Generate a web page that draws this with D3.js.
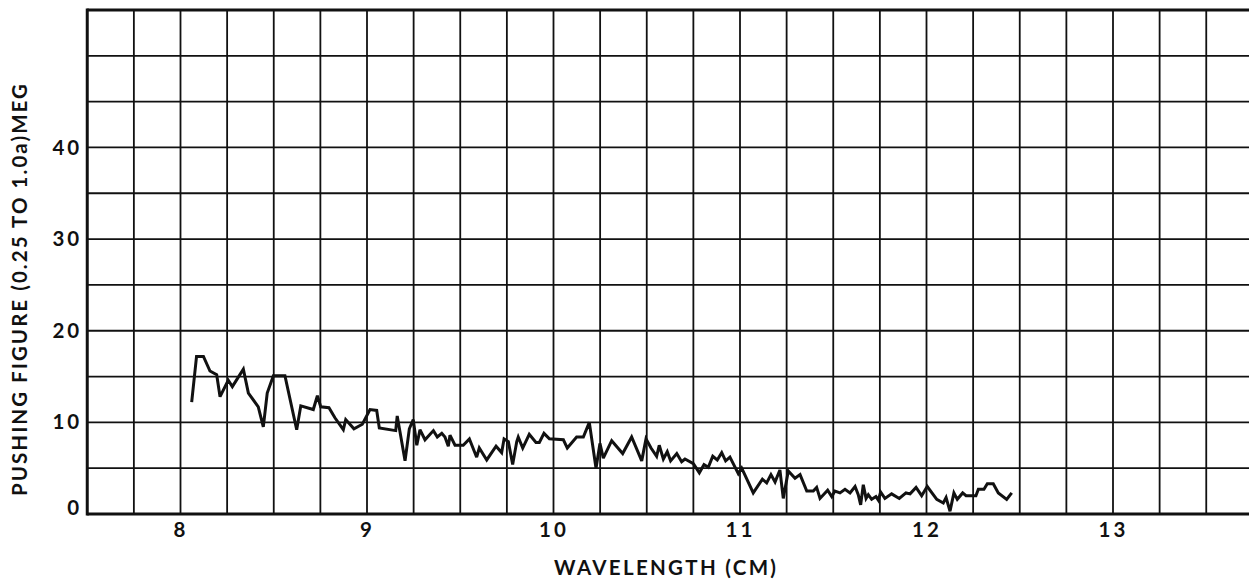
<!DOCTYPE html>
<html>
<head>
<meta charset="utf-8">
<script src="https://cdn.jsdelivr.net/npm/d3@7"></script>
<style>
  html, body { margin: 0; padding: 0; background: #fff; }
  svg { display: block; }
  text { font-family: Lato, "DejaVu Sans", sans-serif; font-weight: 700; fill: #111; }
</style>
</head>
<body>
<svg id="chart" width="1249" height="587"></svg>
<script>
// Wavelength (cm) of each recorded point
const wavelength = [
  8.060, 8.086, 8.123, 8.158, 8.194, 8.212, 8.256, 8.278, 8.337, 8.364,
  8.417, 8.444, 8.465, 8.498, 8.560, 8.623, 8.645, 8.712, 8.734, 8.752,
  8.796, 8.828, 8.873, 8.886, 8.930, 8.975, 9.016, 9.052, 9.066, 9.154,
  9.162, 9.204, 9.227, 9.248, 9.267, 9.284, 9.311, 9.356, 9.377, 9.401,
  9.418, 9.436, 9.445, 9.472, 9.516, 9.549, 9.588, 9.602, 9.642, 9.692,
  9.722, 9.735, 9.758, 9.781, 9.803, 9.811, 9.835, 9.870, 9.906, 9.924,
  9.949, 9.978, 10.053, 10.074, 10.124, 10.160, 10.192, 10.228, 10.249, 10.267,
  10.312, 10.371, 10.419, 10.473, 10.496, 10.523, 10.553, 10.567, 10.589, 10.610,
  10.628, 10.661, 10.687, 10.705, 10.750, 10.782, 10.807, 10.830, 10.854, 10.878,
  10.902, 10.923, 10.946, 10.991, 11.009, 11.023, 11.071, 11.120, 11.143, 11.166,
  11.188, 11.214, 11.232, 11.259, 11.295, 11.322, 11.358, 11.393, 11.411, 11.429,
  11.470, 11.492, 11.509, 11.536, 11.563, 11.590, 11.617, 11.634, 11.647, 11.661,
  11.676, 11.688, 11.706, 11.729, 11.742, 11.754, 11.777, 11.813, 11.854, 11.890,
  11.912, 11.944, 11.974, 12.004, 12.055, 12.090, 12.105, 12.126, 12.147, 12.165,
  12.194, 12.212, 12.265, 12.278, 12.308, 12.326, 12.358, 12.385, 12.430, 12.457
];

// Pushing figure (0.25 to 1.0a), MEG
const pushingFigure = [
  12.2, 17.2, 17.2, 15.6, 15.2, 12.8, 14.6, 13.9, 15.8, 13.2,
  11.7, 9.5, 13.2, 15.1, 15.1, 9.2, 11.8, 11.4, 12.9, 11.7,
  11.6, 10.5, 9.2, 10.3, 9.3, 9.8, 11.4, 11.3, 9.4, 9.1,
  10.7, 5.8, 9.3, 10.3, 7.5, 9.2, 8.1, 9.1, 8.4, 8.8,
  8.4, 7.4, 8.6, 7.5, 7.5, 8.2, 6.2, 7.2, 5.9, 7.4,
  6.7, 8.2, 7.9, 5.4, 7.9, 8.4, 7.2, 8.7, 7.8, 7.8,
  8.8, 8.2, 8.1, 7.2, 8.4, 8.4, 10.0, 5.0, 7.7, 6.1,
  8.0, 6.6, 8.4, 5.8, 8.2, 7.2, 6.3, 7.5, 6.0, 6.8,
  5.8, 6.6, 5.7, 6.0, 5.5, 4.5, 5.4, 5.1, 6.3, 5.9,
  6.7, 5.8, 6.2, 4.4, 5.0, 4.4, 2.3, 3.8, 3.4, 4.3,
  3.5, 4.8, 1.7, 4.7, 3.9, 4.3, 2.5, 2.5, 2.9, 1.7,
  2.6, 1.9, 2.5, 2.3, 2.7, 2.3, 3.0, 2.1, 1.0, 3.2,
  1.7, 2.1, 1.6, 1.9, 1.5, 2.4, 1.7, 2.2, 1.7, 2.3,
  2.2, 2.9, 2.0, 3.0, 1.6, 1.2, 1.8, 0.3, 2.3, 1.6,
  2.3, 2.0, 2.0, 2.7, 2.7, 3.3, 3.3, 2.3, 1.6, 2.3
];

// Axis tick labels
const xTickValues = [8, 9, 10, 11, 12, 13];
const yTickValues = [0, 10, 20, 30, 40];

const xTitle = "WAVELENGTH (CM)";
const yTitle = "PUSHING FIGURE (0.25 TO 1.0a)MEG";

const svg = d3.select("#chart");
const W = 1249, H = 587;
const plotLeft = 87.25, plotBottom = 514, plotTop = 10;

svg.append("rect").attr("width", W).attr("height", H).attr("fill", "#fff");

const x = d3.scaleLinear().domain([7.5, 13.75]).range([plotLeft, plotLeft + 6.25 * 186.5]);
const y = d3.scaleLinear().domain([0, 55]).range([plotBottom, plotTop]);

// Graph-paper grid: every 0.25 cm and every 5 units
const xGrid = d3.range(7.75, 13.76, 0.25);
const yGrid = d3.range(5, 55, 5);

const grid = svg.append("g").attr("stroke", "#111").attr("stroke-width", 1.8);
grid.selectAll("line.v").data(xGrid).join("line")
  .attr("class", "v")
  .attr("x1", d => x(d)).attr("x2", d => x(d))
  .attr("y1", y(55)).attr("y2", y(0));
grid.selectAll("line.h").data(yGrid).join("line")
  .attr("class", "h")
  .attr("x1", x(7.5)).attr("x2", W)
  .attr("y1", d => y(d)).attr("y2", d => y(d));

// Frame: left, top and bottom edges
const frame = svg.append("g").attr("stroke", "#111").attr("stroke-width", 3).attr("fill", "none");
frame.append("line").attr("x1", x(7.5)).attr("x2", x(7.5)).attr("y1", y(55) - 1.5).attr("y2", y(0) + 1.5);
frame.append("line").attr("x1", x(7.5)).attr("x2", W).attr("y1", y(55)).attr("y2", y(55));
frame.append("line").attr("x1", x(7.5)).attr("x2", W).attr("y1", y(0)).attr("y2", y(0));

// Axes (labels only)
const xAxis = d3.axisBottom(x).tickValues(xTickValues).tickSize(0).tickPadding(8).tickFormat(d3.format("d"));
const yAxis = d3.axisLeft(y).tickValues(yTickValues).tickSize(0).tickPadding(5).tickFormat(d3.format("d"));

const gx = svg.append("g").attr("transform", `translate(0,${plotBottom})`).call(xAxis);
const gy = svg.append("g").attr("transform", `translate(${plotLeft},0)`).call(yAxis);
[gx, gy].forEach(g => {
  g.select(".domain").remove();
  g.selectAll("text")
    .attr("font-family", "Lato, 'DejaVu Sans', sans-serif")
    .attr("font-weight", 700)
    .attr("font-size", 20.5)
    .attr("letter-spacing", 3)
    .attr("fill", "#111");
});
gy.selectAll(".tick").filter(d => d === 0).select("text").attr("dy", "0.0em");

// Data trace
const pts = wavelength.map((w, i) => [w, pushingFigure[i]]);
const line = d3.line().x(d => x(d[0])).y(d => y(d[1]));
svg.append("path")
  .datum(pts)
  .attr("d", line)
  .attr("fill", "none")
  .attr("stroke", "#111")
  .attr("stroke-width", 3)
  .attr("stroke-linejoin", "miter")
  .attr("stroke-miterlimit", 3);

// Axis titles
svg.append("text")
  .attr("x", 665).attr("y", 575)
  .attr("text-anchor", "middle")
  .attr("font-size", 20.5)
  .attr("textLength", 222)
  .attr("lengthAdjust", "spacing")
  .text(xTitle);

svg.append("text")
  .attr("transform", "translate(27,290) rotate(-90)")
  .attr("text-anchor", "middle")
  .attr("font-size", 20.5)
  .attr("textLength", 412)
  .attr("lengthAdjust", "spacing")
  .text(yTitle);
</script>
</body>
</html>
